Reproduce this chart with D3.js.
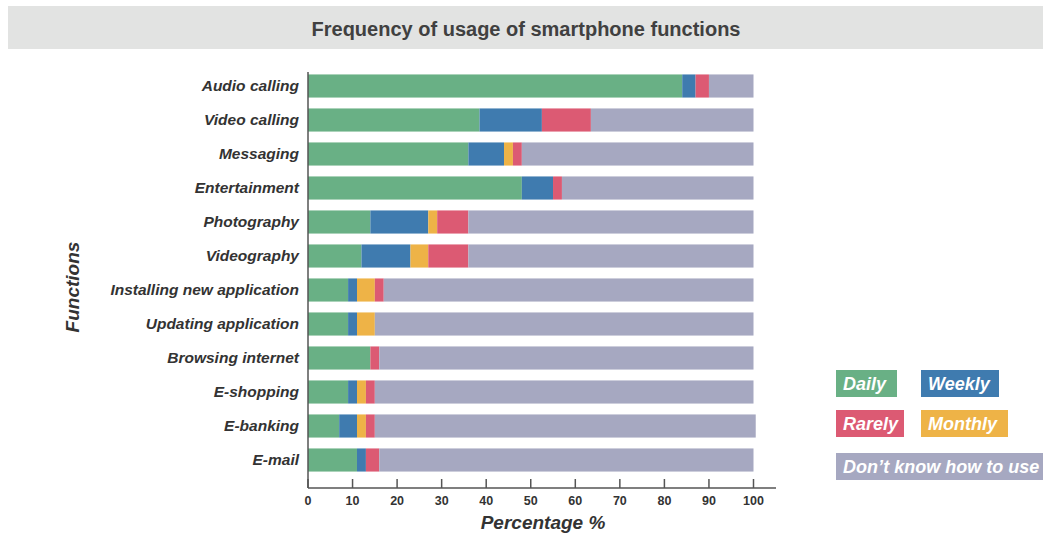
<!DOCTYPE html>
<html>
<head>
<meta charset="utf-8">
<script src="https://cdn.jsdelivr.net/npm/d3@7"></script>
<style>
  html, body { margin: 0; padding: 0; background: #ffffff; }
  svg { display: block; font-family: "Liberation Sans", Arial, sans-serif; }
</style>
</head>
<body>
<svg id="chart" width="1043" height="534"></svg>
<script>
// Smartphone functions, top to bottom
const functions = [
  "Audio calling", "Video calling", "Messaging", "Entertainment",
  "Photography", "Videography", "Installing new application",
  "Updating application", "Browsing internet", "E-shopping",
  "E-banking", "E-mail"
];

// Share of respondents (%) per frequency, same order as functions
const daily    = [84, 38.5, 36, 48, 14, 12, 9, 9, 14, 9, 7, 11];
const weekly   = [3, 14, 8, 7, 13, 11, 2, 2, 0, 2, 4, 2];
const monthly  = [0, 0, 2, 0, 2, 4, 4, 4, 0, 2, 2, 0];
const rarely   = [3, 11, 2, 2, 7, 9, 2, 0, 2, 2, 2, 3];
const dontKnow = [10, 36.5, 52, 43, 64, 64, 83, 85, 84, 85, 85.5, 84];

const seriesNames = ["Daily", "Weekly", "Monthly", "Rarely", "Don\u2019t know how to use"];
const seriesValues = [daily, weekly, monthly, rarely, dontKnow];
const seriesColors = ["#69b085", "#3f7baf", "#eeb347", "#dc5a73", "#a6a8c1"];

const xTicks = [0, 10, 20, 30, 40, 50, 60, 70, 80, 90, 100];

const svg = d3.select("#chart");
const W = 1043, H = 534;

// Title band
svg.append("rect")
  .attr("x", 8).attr("y", 6).attr("width", W - 8).attr("height", 43)
  .attr("fill", "#e2e3e2");
svg.append("text")
  .attr("x", 526).attr("y", 36)
  .attr("text-anchor", "middle")
  .attr("font-size", 20).attr("font-weight", "bold")
  .attr("fill", "#404040")
  .text("Frequency of usage of smartphone functions");

// Scales
const x = d3.scaleLinear().domain([0, 100]).range([308, 753.5]);
const y = d3.scaleBand().domain(functions).range([69, 477]).paddingInner(0.32).paddingOuter(0.16);

// Stacked table
const rows = functions.map((f, i) => {
  const r = { name: f };
  seriesNames.forEach((s, k) => { r[s] = seriesValues[k][i]; });
  return r;
});
const stacked = d3.stack().keys(seriesNames)(rows);

svg.append("g").selectAll("g")
  .data(stacked)
  .join("g")
  .attr("fill", (d, k) => seriesColors[k])
  .selectAll("rect")
  .data(d => d)
  .join("rect")
  .attr("x", d => x(d[0]))
  .attr("y", d => y(d.data.name))
  .attr("width", d => Math.max(0, x(d[1]) - x(d[0])))
  .attr("height", y.bandwidth());

// X axis (ticks point up, toward the bars)
const axisY = 488;
const xAxis = svg.append("g").attr("transform", `translate(0,${axisY})`);
xAxis.append("line")
  .attr("x1", 308).attr("x2", 776).attr("y1", 0).attr("y2", 0)
  .attr("stroke", "#555").attr("stroke-width", 1.5);
xAxis.selectAll("line.tick")
  .data(xTicks)
  .join("line")
  .attr("class", "tick")
  .attr("x1", d => x(d)).attr("x2", d => x(d))
  .attr("y1", 0).attr("y2", -9)
  .attr("stroke", "#555").attr("stroke-width", 1.5);
xAxis.selectAll("text")
  .data(xTicks)
  .join("text")
  .attr("x", d => x(d))
  .attr("y", 16.5)
  .attr("text-anchor", "middle")
  .attr("font-size", 12.5).attr("font-weight", "bold")
  .attr("fill", "#333")
  .text(d => d);

// Y axis line
svg.append("line")
  .attr("x1", 308).attr("x2", 308).attr("y1", 72).attr("y2", axisY)
  .attr("stroke", "#555").attr("stroke-width", 1.5);

// Category labels
svg.append("g").selectAll("text")
  .data(functions)
  .join("text")
  .attr("x", 299)
  .attr("y", d => y(d) + y.bandwidth() / 2)
  .attr("dy", "0.35em")
  .attr("text-anchor", "end")
  .attr("font-size", 15.5).attr("font-weight", "bold").attr("font-style", "italic")
  .attr("fill", "#333")
  .text(d => d);

// Axis titles
svg.append("text")
  .attr("x", 543).attr("y", 529)
  .attr("text-anchor", "middle")
  .attr("font-size", 19).attr("font-weight", "bold").attr("font-style", "italic")
  .attr("fill", "#333")
  .text("Percentage %");
svg.append("text")
  .attr("transform", "translate(79,287) rotate(-90)")
  .attr("text-anchor", "middle")
  .attr("font-size", 19).attr("font-weight", "bold").attr("font-style", "italic")
  .attr("fill", "#333")
  .text("Functions");

// Legend
const legendItems = [
  { k: 0, x: 836, y: 370, w: 61 },
  { k: 1, x: 921, y: 370, w: 78 },
  { k: 3, x: 836, y: 410, w: 68 },
  { k: 2, x: 921, y: 410, w: 87 },
  { k: 4, x: 836, y: 453, w: 220 }
];
const lg = svg.append("g").selectAll("g").data(legendItems).join("g");
lg.append("rect")
  .attr("x", d => d.x).attr("y", d => d.y)
  .attr("width", d => d.w).attr("height", 27)
  .attr("fill", d => seriesColors[d.k]);
lg.append("text")
  .attr("x", d => d.x + 7).attr("y", d => d.y + 13.5)
  .attr("dy", "0.35em")
  .attr("font-size", 18).attr("font-weight", "bold").attr("font-style", "italic")
  .attr("fill", "#ffffff")
  .text(d => seriesNames[d.k]);
</script>
</body>
</html>
